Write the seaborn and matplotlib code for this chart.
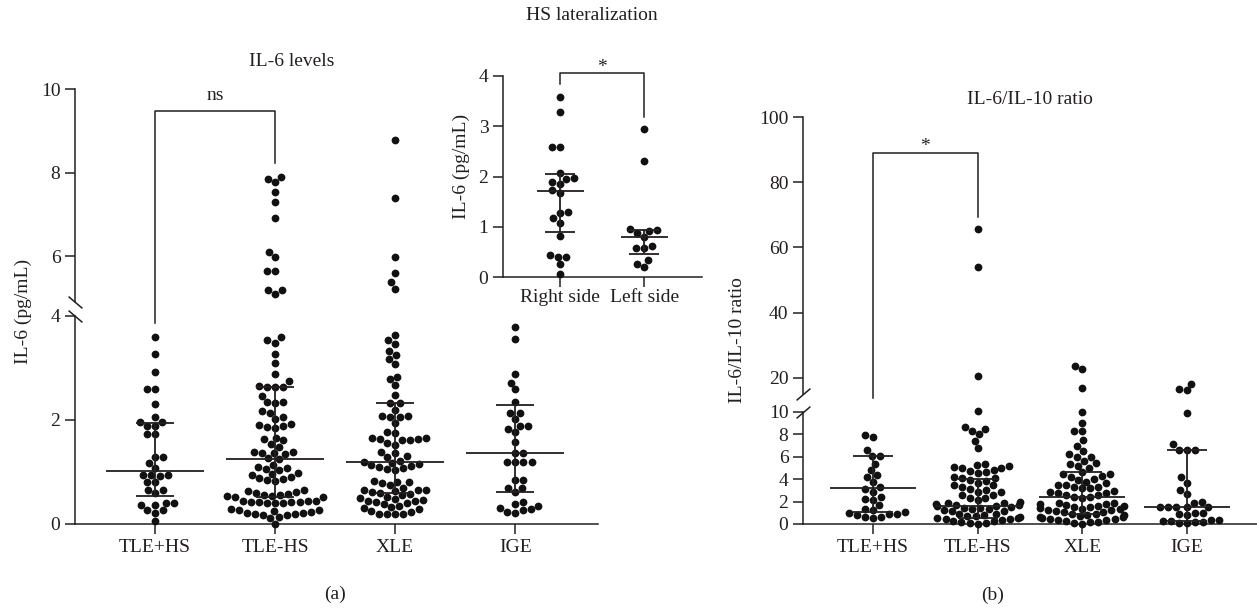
import matplotlib
matplotlib.use("Agg")
import matplotlib.pyplot as plt
import numpy as np
import pandas as pd
import seaborn as sns

# ---- data ---------------------------------------------------------------
groups = ["TLE+HS", "TLE-HS", "XLE", "IGE"]
sides = ["Right side", "Left side"]

# (a) IL-6 levels (pg/mL)
il6_tle_hs_pos = [3.59, 3.27, 2.93, 2.60, 2.60, 2.31, 2.06, 1.96, 1.96, 1.88, 1.88,
                  1.73, 1.73, 1.28, 1.28, 1.17, 1.08, 0.95, 0.94, 0.94, 0.93, 0.81,
                  0.81, 0.65, 0.65, 0.59, 0.41, 0.41, 0.37, 0.37, 0.27, 0.27, 0.22, 0.06]
il6_tle_hs_neg = [7.90, 7.85, 7.77, 7.54, 7.29, 6.91, 6.10, 5.97, 5.64, 5.64, 5.18, 5.18,
                  5.10, 3.60, 3.54, 3.49, 3.27, 3.09, 2.88, 2.75, 2.65, 2.64, 2.64, 2.63,
                  2.46, 2.35, 2.34, 2.33, 2.17, 2.13, 2.06, 2.01, 1.93, 1.91, 1.88, 1.87,
                  1.85, 1.66, 1.63, 1.61, 1.54, 1.49, 1.39, 1.38, 1.37, 1.36, 1.35, 1.26,
                  1.25, 1.14, 1.10, 1.08, 1.06, 1.04, 0.98, 0.96, 0.94, 0.91, 0.88, 0.86,
                  0.84, 0.82, 0.66, 0.64, 0.62, 0.60, 0.58, 0.56, 0.55, 0.54, 0.53, 0.52,
                  0.51, 0.45, 0.44, 0.44, 0.43, 0.43, 0.42, 0.42, 0.41, 0.41, 0.40, 0.28,
                  0.27, 0.26, 0.25, 0.24, 0.22, 0.21, 0.20, 0.19, 0.18, 0.17, 0.13, 0.12, 0.0]
il6_xle = [8.77, 7.38, 5.97, 5.60, 5.38, 5.22, 3.63, 3.54, 3.46, 3.32, 3.25, 3.17, 3.07,
           2.82, 2.78, 2.67, 2.48, 2.32, 2.32, 2.20, 2.08, 2.07, 2.06, 2.05, 1.94, 1.77,
           1.75, 1.66, 1.65, 1.64, 1.63, 1.62, 1.61, 1.56, 1.52, 1.39, 1.37, 1.30, 1.29,
           1.22, 1.20, 1.18, 1.15, 1.13, 1.11, 1.09, 1.07, 1.05, 1.04, 0.82, 0.81, 0.80,
           0.78, 0.75, 0.70, 0.66, 0.65, 0.65, 0.64, 0.62, 0.60, 0.58, 0.55, 0.52, 0.50,
           0.48, 0.46, 0.45, 0.44, 0.43, 0.40, 0.38, 0.35, 0.32, 0.31, 0.29, 0.25, 0.23,
           0.20, 0.19, 0.19, 0.19]
il6_ige = [3.78, 3.55, 2.88, 2.72, 2.59, 2.35, 2.14, 2.14, 2.02, 1.88, 1.88, 1.83, 1.76,
           1.57, 1.36, 1.36, 1.19, 1.19, 1.19, 1.19, 0.85, 0.85, 0.69, 0.69, 0.62, 0.42,
           0.39, 0.35, 0.30, 0.28, 0.27, 0.24, 0.22]
il6_median = [1.01, 1.25, 1.20, 1.36]
il6_q1 = [0.54, 0.52, 0.59, 0.62]
il6_q3 = [1.95, 2.64, 2.32, 2.29]

# inset: HS lateralization
lat_right = [3.59, 3.28, 2.59, 2.59, 2.06, 1.98, 1.96, 1.90, 1.86, 1.73, 1.68, 1.30,
             1.27, 1.17, 1.08, 0.82, 0.44, 0.40, 0.40, 0.25, 0.05]
lat_left = [2.94, 2.31, 0.96, 0.93, 0.92, 0.87, 0.80, 0.61, 0.58, 0.57, 0.34, 0.26, 0.20]
lat_median = [1.71, 0.80]
lat_q1 = [0.89, 0.45]
lat_q3 = [2.04, 0.94]

# (b) IL-6/IL-10 ratio
ratio_tle_hs_pos = [7.95, 7.75, 6.60, 6.10, 6.05, 5.40, 4.80, 4.35, 4.20, 3.75, 3.30,
                    3.10, 2.88, 2.44, 2.20, 2.15, 1.70, 1.30, 1.25, 1.04, 0.95, 0.89,
                    0.86, 0.80, 0.65, 0.59, 0.50]
ratio_tle_hs_neg = [65.7, 53.9, 20.4, 10.1, 8.7, 8.5, 8.3, 8.0, 7.4, 6.75, 5.4,
                    5.27, 5.21, 5.12, 5.03, 4.97, 4.82, 4.73, 4.67, 4.58,
                    4.22, 4.14, 4.07, 3.93, 3.83, 3.69, 3.48, 3.48, 3.33,
                    3.10, 3.04, 2.89, 2.89, 2.59, 2.59, 2.35, 2.35, 2.14,
                    1.93, 1.88, 1.84, 1.78, 1.74, 1.69, 1.63, 1.58, 1.52, 1.47, 1.41,
                    1.34, 1.30, 1.22, 1.18, 1.12,
                    0.90, 0.86, 0.80, 0.74, 0.69, 0.63, 0.58, 0.52, 0.47, 0.41, 0.36,
                    0.30, 0.24, 0.19, 0.13, 0.08, 0.02]
ratio_xle = [23.7, 22.7, 16.8, 10.0, 9.05, 8.3, 8.3, 7.5, 7.0, 6.5,
             6.22, 6.0, 6.0, 5.63, 5.42, 5.33,
             5.18, 4.97, 4.61, 4.43, 4.43, 4.29,
             4.17, 4.02, 3.93, 3.78, 3.63, 3.48, 3.48, 3.33, 3.27, 3.18,
             3.18, 2.94, 2.89, 2.74, 2.74, 2.59, 2.59, 2.44, 2.44, 2.29,
             1.91, 1.86, 1.80, 1.76, 1.71, 1.65, 1.60, 1.55, 1.49, 1.44, 1.38,
             1.33, 1.27, 1.22, 1.16, 1.10, 1.05,
             0.92, 0.87, 0.81, 0.76, 0.70, 0.65, 0.59, 0.54, 0.49, 0.43, 0.38,
             0.32, 0.27, 0.21, 0.16, 0.10, 0.04]
ratio_ige = [18.2, 16.6, 16.1, 9.94, 7.1, 6.6, 6.6, 6.6, 4.2, 3.7, 3.0, 2.7, 2.0, 1.9,
             1.55, 1.55, 1.55, 1.55, 1.55, 1.0, 0.96, 0.9, 0.8,
             0.40, 0.30, 0.18, 0.05, 0.08, 0.16, 0.25, 0.35]
ratio_median = [3.18, 1.60, 2.44, 1.55]
ratio_q1 = [1.05, 0.55, 0.90, 0.30]
ratio_q3 = [6.07, 4.05, 4.64, 6.60]

# ---- style ---------------------------------------------------------------
plt.rcParams["font.family"] = ["Liberation Serif", "DejaVu Serif"]
plt.rcParams["font.size"] = 14
INK = "#231f20"
DOT = "#111111"
W, H = 1257, 610

fig = plt.figure(figsize=(W / 100, H / 100), dpi=100)


def px_axes(left, top, right, bottom):
    return fig.add_axes([left / W, 1 - bottom / H, (right - left) / W, (bottom - top) / H])


def long_frame(names, series):
    return pd.DataFrame({
        "group": np.repeat(names, [len(s) for s in series]),
        "value": np.concatenate(series),
    })


def swarm(ax, df, names, lo, hi):
    sub = df[(df["value"] >= lo) & (df["value"] <= hi)]
    sns.swarmplot(data=sub, x="group", y="value", order=names, color=DOT,
                  size=5.6, linewidth=0, warn_thresh=1, ax=ax)
    for c in ax.collections:
        c.set_clip_on(False)
    ax.set_xlabel("")
    ax.set_ylabel("")


def summary(ax, med, q1, q3, half_med, half_cap):
    x = np.arange(len(med))
    kw = dict(color=INK, lw=1.3, zorder=3, clip_on=False)
    ax.hlines(med, x - half_med, x + half_med, **kw)
    ax.hlines(q1, x - half_cap, x + half_cap, **kw)
    ax.hlines(q3, x - half_cap, x + half_cap, **kw)
    ax.vlines(x, q1, q3, **kw)


def style(ax, bottom=True):
    for side in ["top", "right"]:
        ax.spines[side].set_visible(False)
    ax.spines["left"].set_color(INK)
    ax.spines["left"].set_linewidth(1.1)
    ax.spines["bottom"].set_color(INK)
    ax.spines["bottom"].set_linewidth(1.1)
    ax.spines["bottom"].set_visible(bottom)
    ax.tick_params(direction="out", length=7.5, width=1.1, color=INK,
                   labelcolor=INK, labelsize=14, pad=3)
    if not bottom:
        ax.tick_params(axis="x", bottom=False, labelbottom=False)
    ax.set_facecolor("none")


def brk(ax, y, slope):
    ax.plot([0], [y], transform=ax.transAxes, marker=[(-1, -slope), (1, slope)],
            markersize=10, markeredgewidth=1.1, color=INK, linestyle="none",
            clip_on=False)


# ---- panel (a) -----------------------------------------------------------
df_il6 = long_frame(groups, [il6_tle_hs_pos, il6_tle_hs_neg, il6_xle, il6_ige])

a_low = px_axes(75, 316, 598, 524)
a_up = px_axes(75, 89, 598, 302)
swarm(a_low, df_il6, groups, 0, 4.5)
swarm(a_up, df_il6, groups, 4.5, 20)
summary(a_low, il6_median, il6_q1, il6_q3, 0.41, 0.16)
for ax in (a_low, a_up):
    ax.set_xlim(-0.667, 3.69)
a_low.set_ylim(0, 4)
a_up.set_ylim(4.9, 10)
a_low.set_yticks([0, 2, 4])
a_up.set_yticks([6, 8, 10])
style(a_low)
style(a_up, bottom=False)
brk(a_up, 0.0, -0.85)
brk(a_low, 1.0, -0.85)
a_up.plot([0, 0, 1, 1], [4.39, 9.47, 9.47, 8.24], color=INK, lw=1.1, clip_on=False)
a_up.text(0.5, 9.74, "ns", ha="center", va="baseline", color=INK)

# inset: HS lateralization
df_lat = long_frame(sides, [lat_right, lat_left])
ins = px_axes(503, 76, 702, 277)
swarm(ins, df_lat, sides, 0, 5)
summary(ins, lat_median, lat_q1, lat_q3, 0.28, 0.18)
ins.set_xlim(-0.68, 1.69)
ins.set_ylim(0, 4)
ins.set_yticks([0, 1, 2, 3, 4])
style(ins)
ins.tick_params(axis="x", pad=1)
ins.plot([0, 0, 1, 1], [3.84, 4.06, 4.06, 3.18], color=INK, lw=1.1, clip_on=False)
ins.text(0.5, 4.08, "*", ha="center", va="baseline", color=INK)

# ---- panel (b) -----------------------------------------------------------
df_ratio = long_frame(groups, [ratio_tle_hs_pos, ratio_tle_hs_neg, ratio_xle, ratio_ige])

b_low = px_axes(803, 412, 1257, 524)
b_up = px_axes(803, 117, 1257, 394)
swarm(b_low, df_ratio, groups, 0, 12)
swarm(b_up, df_ratio, groups, 12, 200)
summary(b_low, ratio_median, ratio_q1, ratio_q3, 0.41, 0.19)
for ax in (b_low, b_up):
    ax.set_xlim(-0.67, 3.67)
b_low.set_ylim(0, 10)
b_up.set_ylim(15, 100)
b_low.set_yticks([0, 2, 4, 6, 8, 10])
b_up.set_yticks([20, 40, 60, 80, 100])
style(b_low)
style(b_up, bottom=False)
brk(b_up, 0.0, 0.85)
brk(b_low, 1.0, 0.85)
b_up.plot([0, 0, 1, 1], [13.9, 89.0, 89.0, 69.3], color=INK, lw=1.1, clip_on=False)
b_up.text(0.5, 89.6, "*", ha="center", va="baseline", color=INK)

# ---- titles and labels ---------------------------------------------------
fig.text(592 / W, 1 - 15 / H, "HS lateralization", ha="center", va="center", color=INK)
fig.text(292 / W, 1 - 62 / H, "IL-6 levels", ha="center", va="center", color=INK)
fig.text(1030 / W, 1 - 99 / H, "IL-6/IL-10 ratio", ha="center", va="center", color=INK)
fig.text(23 / W, 1 - 311 / H, "IL-6 (pg/mL)", rotation=90, ha="center", va="center", color=INK)
fig.text(461 / W, 1 - 166 / H, "IL-6 (pg/mL)", rotation=90, ha="center", va="center", color=INK)
fig.text(738 / W, 1 - 340 / H, "IL-6/IL-10 ratio", rotation=90, ha="center", va="center", color=INK)
fig.text(335 / W, 1 - 594 / H, "(a)", ha="center", va="center", color=INK)
fig.text(993 / W, 1 - 595 / H, "(b)", ha="center", va="center", color=INK)

fig.savefig("out.png", dpi=100, facecolor="white")
